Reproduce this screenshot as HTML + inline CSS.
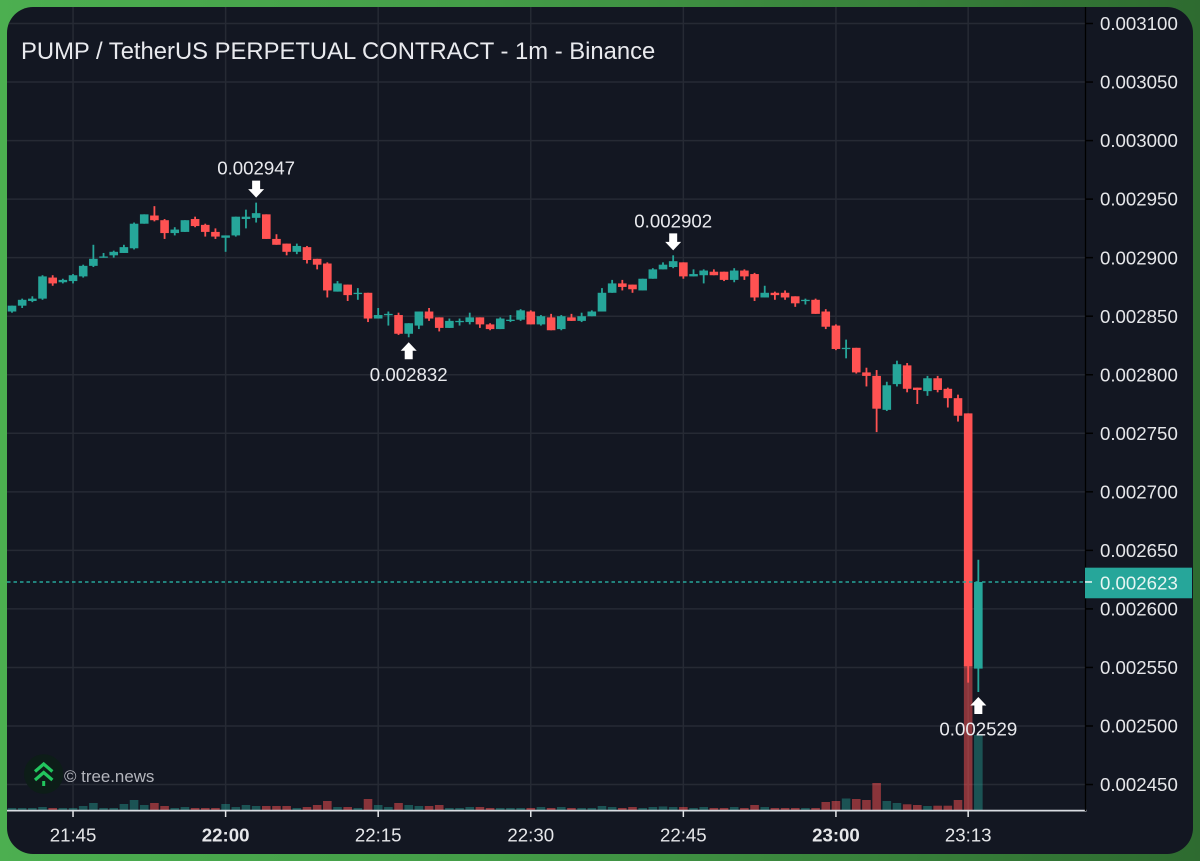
<!DOCTYPE html>
<html lang="en">
<head>
<meta charset="utf-8">
<title>PUMP / TetherUS PERPETUAL CONTRACT - 1m - Binance</title>
<style>
html,body{margin:0;padding:0;width:1200px;height:861px;overflow:hidden;background:linear-gradient(90deg,#4caf50 0%,#449d48 40%,#2e6b30 100%);}
#panel{position:absolute;left:7px;top:7px;width:1186px;height:847px;border-radius:26px;background:#131722;overflow:hidden;}
svg{position:absolute;left:0;top:0;display:block;font-family:"Liberation Sans",sans-serif;}
</style>
</head>
<body>
<div id="panel"></div>
<svg id="chart" width="1200" height="861" viewBox="0 0 1200 861" xmlns="http://www.w3.org/2000/svg">
  <defs><clipPath id="panelClip"><rect x="7" y="7" width="1186" height="847" rx="26"/></clipPath></defs>
  <g id="grid" clip-path="url(#panelClip)"></g>
  <g id="volumes"></g>
  <g id="candles"></g>
  <g id="axes"></g>
  <g id="last"></g>
  <g id="markers"></g>
  <text x="21" y="59" font-size="23.82" fill="#e9eaee">PUMP / TetherUS PERPETUAL CONTRACT - 1m - Binance</text>
  <g>
    <circle cx="43.7" cy="774" r="19.7" fill="#0d1d18"/>
    <path d="M35 771.5 L43.7 764 L52.4 771.5 M35 780 L43.7 772.5 L52.4 780" fill="none" stroke="#22c55e" stroke-width="3.2"/>
    <rect x="42.2" y="781" width="3" height="5" fill="#22c55e"/>
    <text x="64" y="782" font-size="16.9" fill="#b4b6bd">© tree.news</text>
  </g>
</svg>
<script>
// Prices in units of 0.000001 USDT, one candle per minute from 21:39 to 23:14
const opens = [2854,2859,2863,2865,2883,2879,2880,2884,2893,2900,
2902,2904,2908,2929,2936,2932,2921,2922,2933,2928,
2922,2917,2919,2933,2934,2937,2916,2912,2905,2909,
2899,2895,2871,2877,2869,2870,2848,2851,2851,2835,
2842,2854,2849,2840,2845,2845,2849,2843,2839,2846,
2847,2854,2843,2849,2839,2849,2846,2850,2854,2870,
2878,2877,2872,2882,2890,2892,2896,2884,2885,2888,
2888,2881,2889,2886,2866,2870,2870,2867,2863,2864,
2854,2842,2822,2823,2802,2799,2770,2792,2808,2789,
2786,2797,2788,2780,2767,2549];
const highs = [2859,2865,2867,2885,2885,2882,2886,2894,2911,2904,
2906,2911,2930,2937,2944,2933,2926,2932,2935,2929,
2925,2919,2935,2941,2947,2937,2920,2912,2912,2910,
2899,2896,2880,2877,2874,2870,2857,2854,2853,2844,
2854,2857,2849,2848,2848,2853,2849,2844,2849,2851,
2856,2855,2851,2852,2851,2852,2853,2855,2874,2881,
2881,2877,2882,2891,2896,2902,2896,2890,2890,2890,
2888,2891,2890,2887,2876,2871,2872,2867,2865,2865,
2856,2843,2830,2823,2806,2804,2794,2812,2810,2789,
2799,2799,2789,2783,2767,2642];
const lows = [2853,2857,2862,2864,2876,2878,2878,2883,2892,2900,
2900,2904,2907,2929,2931,2916,2919,2922,2926,2918,
2916,2905,2918,2925,2930,2916,2911,2902,2903,2895,
2890,2866,2871,2863,2864,2845,2848,2842,2834,2832,
2839,2846,2837,2840,2842,2843,2840,2838,2839,2845,
2846,2843,2842,2838,2838,2846,2845,2850,2854,2870,
2872,2870,2872,2882,2890,2891,2882,2884,2878,2885,
2880,2879,2881,2863,2866,2864,2864,2858,2860,2852,
2839,2821,2814,2801,2790,2751,2769,2790,2785,2775,
2782,2785,2772,2760,2537,2529];
const closes = [2859,2864,2865,2884,2878,2881,2885,2893,2899,2901,
2905,2909,2929,2937,2932,2921,2924,2932,2927,2922,
2918,2919,2935,2935,2938,2916,2911,2905,2910,2898,
2894,2872,2878,2868,2870,2848,2851,2852,2835,2844,
2854,2848,2840,2846,2846,2849,2843,2839,2848,2847,
2855,2843,2850,2838,2850,2846,2850,2854,2870,2878,
2875,2873,2882,2890,2894,2897,2884,2886,2889,2885,
2881,2889,2884,2866,2870,2868,2866,2861,2864,2852,
2841,2822,2823,2802,2799,2771,2791,2809,2788,2787,
2797,2787,2780,2765,2551,2623];
const volumes = [2,2,2,3,2,2,2,4,7,2,
2,6,10,5,7,4,2,3,2,2,
2,6,3,5,4,4,4,4,2,3,
5,9,3,3,2,11,5,3,7,5,
4,4,5,2,2,3,3,2,2,2,
2,2,3,2,3,2,2,2,4,3,
2,3,2,3,3.5,3,3,2,3,2,
2,3,2,5,3,2,2,2,2,2,
8,9,11.5,11,10,27,9,7,5.7,5,
4,4.3,4.3,10,145,75];
const priceTicks = [3100,3050,3000,2950,2900,2850,2800,2750,2700,2650,2600,2550,2500,2450];
const timeTickLabels = ["21:45","22:00","22:15","22:30","22:45","23:00","23:13"];
const timeTickIndex = [6,21,36,51,66,81,94];
const timeTickBold = [false,true,false,false,false,true,false];
const markerIndex = [24,39,65,95];
const markerKind = ["high","low","high","low"];

const NS = "http://www.w3.org/2000/svg";
const PANE_LEFT = 7, PANE_RIGHT = 1085.5, PANE_TOP = 7, PANE_BOTTOM = 810;
const UP = "#26a69a", DOWN = "#ff5252";

function xAt(i){ return 12 + i * 10.172; }
function yAt(p){ return 23.5 + (3100 - p) * 1.1708; }
function volTop(v){ return PANE_BOTTOM - v * 1; }
function fmt(p){ return (p / 1000000).toFixed(6); }
function mk(tag, parent, attrs){
  const el = document.createElementNS(NS, tag);
  for (const k in attrs) el.setAttribute(k, attrs[k]);
  parent.appendChild(el);
  return el;
}

const gGrid = document.getElementById("grid");
const gVol = document.getElementById("volumes");
const gCandles = document.getElementById("candles");
const gAxes = document.getElementById("axes");
const gLast = document.getElementById("last");
const gMarkers = document.getElementById("markers");

// horizontal grid, price ticks and labels
priceTicks.forEach(function(p){
  const y = yAt(p);
  const line = mk("line", gGrid, {x1:PANE_LEFT, x2:PANE_RIGHT, y1:y, y2:y, stroke:"#262a34", "stroke-width":1.5});
  
  
  const tick = mk("line", gAxes, {x1:1086, x2:1093, y1:y, y2:y, stroke:"#000000", "stroke-width":1.5});
  
  
  const t = mk("text", gAxes, {x:1100, y:y + 6.6, "font-size":18.67, fill:"#e6e7ea"});
  t.textContent = fmt(p);
  
  
});

// vertical grid, time ticks and labels
timeTickIndex.forEach(function(idx, n){
  const x = xAt(idx);
  const line = mk("line", gGrid, {x1:x, x2:x, y1:PANE_TOP, y2:PANE_BOTTOM, stroke:"#262a34", "stroke-width":1.5});
  
  
  const tick = mk("line", gAxes, {x1:x, x2:x, y1:811, y2:817, stroke:"#e6e7ea", "stroke-width":1.5});
  
  
  const t = mk("text", gAxes, {x:x, y:841.5, "font-size":18.67, fill:"#e6e7ea", "text-anchor":"middle", "font-weight":timeTickBold[n] ? "bold" : "normal"});
  t.textContent = timeTickLabels[n];
  
  
});

// volume bars
volumes.forEach(function(v, i){
  const isUp = closes[i] >= opens[i];
  const top = volTop(v);
  const bar = mk("rect", gVol, {x:xAt(i) - 4.3, y:top, width:8.6, height:PANE_BOTTOM - top, fill:isUp ? "rgba(38,166,154,0.42)" : "rgba(255,82,82,0.5)"});
  
  
});

// candles
opens.forEach(function(o, i){
  const c = closes[i];
  const isUp = c >= o;
  const color = isUp ? UP : DOWN;
  const x = xAt(i);
  const top = yAt(Math.max(o, c));
  const bot = yAt(Math.min(o, c));
  const wick = mk("line", gCandles, {x1:x, x2:x, y1:yAt(highs[i]), y2:yAt(lows[i]), stroke:color, "stroke-width":1.8});
  
  
  const body = mk("rect", gCandles, {x:x - 4.3, y:top, width:8.6, height:Math.max(bot - top, 1.3), fill:color});
  
  
});

// axis lines
const xAxisLine = mk("line", gAxes, {x1:PANE_LEFT, x2:1086.5, y1:810.6, y2:810.6, stroke:"#d9dce2", "stroke-width":1.8});


const yAxisLine = mk("line", gAxes, {x1:1085.5, x2:1085.5, y1:PANE_TOP, y2:811, stroke:"#000000", "stroke-width":1.3});



// last price line and label
const lastClose = closes[closes.length - 1];
const lastY = yAt(lastClose);
const lastLine = mk("line", gLast, {x1:PANE_LEFT, x2:PANE_RIGHT, y1:lastY, y2:lastY, stroke:UP, "stroke-width":1.5, "stroke-dasharray":"3.5 3"});


const lastBox = mk("rect", gLast, {x:1085, y:lastY - 14.3, width:107, height:30.6, fill:"#26a69a"});


const lastTick = mk("line", gLast, {x1:1085, x2:1092, y1:lastY, y2:lastY, stroke:"#e9f6f4", "stroke-width":1.5});


const lastText = mk("text", gLast, {x:1100, y:lastY + 7.6, "font-size":18.67, fill:"#e6f5f2"});
lastText.textContent = fmt(lastClose);



// high / low arrows and labels
markerIndex.forEach(function(idx, n){
  const x = xAt(idx);
  const isHigh = markerKind[n] === "high";
  const price = isHigh ? highs[idx] : lows[idx];
  const anchor = yAt(price);
  const s = isHigh ? -1 : 1;
  const tip = anchor + s * 5;
  const neck = tip + s * 8.5;
  const end = tip + s * 17;
  const arrow = mk("polygon", gMarkers, {
    points: [x, tip, x + 8, neck, x + 4, neck, x + 4, end, x - 4, end, x - 4, neck, x - 8, neck].join(" "),
    fill: "#ffffff"
  });
  
  
  const t = mk("text", gMarkers, {x:x, y:isHigh ? anchor - 28 : anchor + 43.5, "font-size":18.67, fill:"#e9eaee", "text-anchor":"middle"});
  t.textContent = fmt(price);
  
  
});
</script>
</body>
</html>
